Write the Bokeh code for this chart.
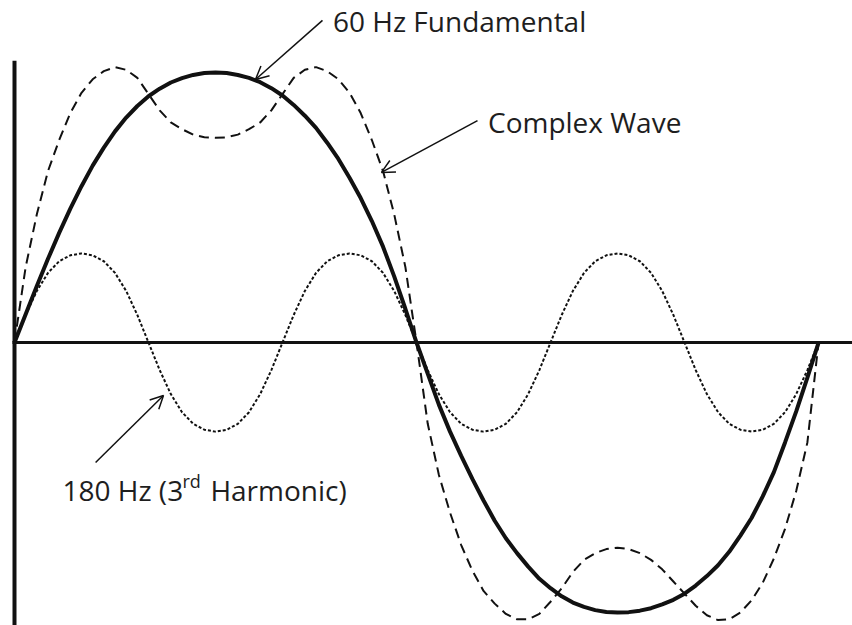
from bokeh.plotting import figure
from bokeh.models import Range1d, Label, Arrow, OpenHead, ColumnDataSource
from bokeh.embed import file_html
from bokeh.resources import INLINE

# phase angle of the 60 Hz fundamental, degrees
theta = [0, 5, 10, 15, 20, 25, 30, 35, 40, 45, 50, 55, 60, 65, 70, 75, 80, 85, 90,
         95, 100, 105, 110, 115, 120, 125, 130, 135, 140, 145, 150, 155, 160, 165, 170, 175, 180,
         185, 190, 195, 200, 205, 210, 215, 220, 225, 230, 235, 240, 245, 250, 255, 260, 265, 270,
         275, 280, 285, 290, 295, 300, 305, 310, 315, 320, 325, 330, 335, 340, 345, 350, 355, 360]

# 60 Hz fundamental (% of peak)
fundamental = [0, 10.5, 20.9, 31.0, 40.6, 49.6, 57.9, 65.5, 72.2, 78.2, 83.3, 87.6, 91.2, 94.0, 96.3, 97.9, 99.1, 99.8, 100,
               99.8, 99.1, 98.0, 96.4, 94.2, 91.5, 88.0, 84.0, 79.5, 74.0, 68.0, 61.0, 53.5, 45.0, 35.5, 24.5, 12.5, 0,
               -11.5, -23, -33, -42, -50.5, -58.5, -66, -72.5, -78, -83, -87.5, -91, -94, -96.3, -97.9, -99.1, -99.8, -100,
               -99.85, -99.3, -98.4, -97, -95.3, -93, -90, -86.5, -82.5, -77.5, -71.5, -65, -57, -48, -37, -25.5, -13, 0]

# 180 Hz third harmonic (% of fundamental peak)
harmonic = [0, 10.2, 19.1, 25.8, 30.1, 32.3, 33.0, 32.3, 30.1, 25.8, 19.1, 10.2,
            0, -10.2, -19.1, -25.8, -30.1, -32.3, -33.0, -32.3, -30.1, -25.8, -19.1, -10.2,
            0, 10.2, 19.1, 25.8, 30.1, 32.3, 33.0, 32.3, 30.1, 25.8, 19.1, 10.2,
            0, -10.2, -19.1, -25.8, -30.1, -32.3, -33.0, -32.3, -30.1, -25.8, -19.1, -10.2,
            0, 10.2, 19.1, 25.8, 30.1, 32.3, 33.0, 32.3, 30.1, 25.8, 19.1, 10.2,
            0, -10.2, -19.1, -25.8, -30.1, -32.3, -33.0, -32.3, -30.1, -25.8, -19.1, -10.2,
            0]

# complex wave (% of fundamental peak)
complex_wave = [0, 28, 47.5, 63.5, 75, 85, 92.5, 97.5, 100.5, 102, 101, 98, 92, 86, 81.5, 79, 77, 76, 75.8,
                76, 77, 79, 81.5, 86, 92, 98, 101, 102, 100.5, 97.5, 92.5, 85, 75, 63.5, 47.5, 28, 0,
                -30, -49, -63, -75, -84.5, -92, -96.7, -100.5, -102.5, -102.5, -100.5, -96, -91, -85, -80.5, -78, -76.5, -76,
                -76.5, -78, -80.5, -84, -88.5, -93, -97.5, -101, -102.8, -102.5, -100, -95.5, -89, -80, -69, -55, -37, 0]

labels = ["60 Hz Fundamental", "Complex Wave", "180 Hz (3", "rd", "Harmonic)"]

src = ColumnDataSource(dict(theta=theta, fundamental=fundamental,
                            harmonic=harmonic, complex_wave=complex_wave))

p = figure(width=852, height=625, x_range=Range1d(-6.27, 375.2), y_range=Range1d(-104.8, 126.67),
           output_backend="svg", toolbar_location=None, x_axis_type=None, y_axis_type=None,
           min_border=0, outline_line_color=None, background_fill_color="white")
p.xgrid.grid_line_color = None
p.ygrid.grid_line_color = None

ink = "#111111"
p.line("theta", "harmonic", source=src, line_color=ink, line_width=2, line_dash="3 2")
p.line("theta", "complex_wave", source=src, line_color=ink, line_width=2, line_dash="10 6")
p.line("theta", "fundamental", source=src, line_color=ink, line_width=4)

# baseline and vertical axis lines
p.segment(x0=[-0.9], y0=[0], x1=[400], y1=[0], line_color=ink, line_width=3)
p.segment(x0=[0], y0=[104.4], x1=[0], y1=[-120], line_color=ink, line_width=4)

txt = "#1e1e1e"
def lab(x, y, t, size="28px"):
    p.add_layout(Label(x=x, y=y, text=t, text_font="Open Sans", text_font_size=size,
                       text_color=txt, text_baseline="alphabetic", text_align="left"))

lab(142.6, 118.9, labels[0])
lab(212.0, 81.7, labels[1])
lab(21.5, -54.8, labels[2])
lab(75.2, -51.1, labels[3], "18px")
lab(87.7, -54.8, labels[4])

def arr(xs, ys, xe, ye):
    p.add_layout(Arrow(end=OpenHead(size=13, line_width=1.5, line_color=ink),
                       x_start=xs, y_start=ys, x_end=xe, y_end=ye,
                       line_width=1.5, line_color=ink))

arr(137.9, 119.3, 107.9, 97.4)
arr(207.3, 82.2, 164.3, 63.0)
arr(36.3, -44.4, 66.7, -19.6)

open("out.html", "w").write(file_html(p, INLINE))
